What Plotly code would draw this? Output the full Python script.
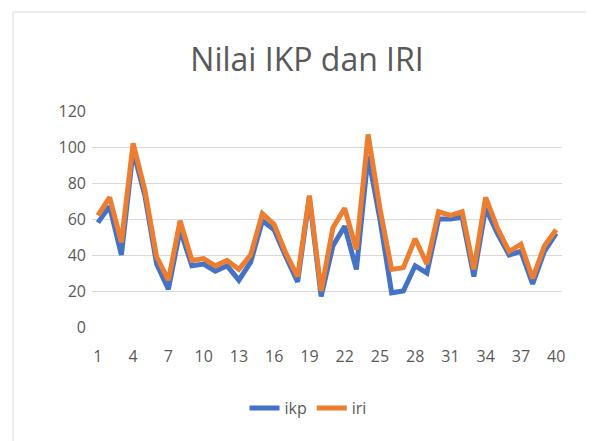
import plotly.graph_objects as go

x_vals = list(range(1, 41))
ikp = [58, 67, 40, 98, 73, 35, 21, 54, 34, 35,
       31, 34, 26, 36, 59, 54, 39, 25, 72, 17,
       45, 56, 32, 95, 60, 19, 20, 34, 30, 60,
       60, 61, 28, 66, 52, 40, 42, 24, 42, 52]
iri = [62, 72, 47, 102, 76, 39, 26, 59, 37, 38,
       34, 37, 32, 40, 63, 57, 41, 28, 73, 20,
       55, 66, 43, 107, 66, 32, 33, 49, 35, 64,
       62, 64, 32, 72, 55, 42, 46, 27, 45, 54]
tick_vals = list(range(1, 41, 3))
y_ticks = [0, 20, 40, 60, 80, 100, 120]

txt = "#595959"
fig = go.Figure()
fig.add_trace(go.Scatter(x=x_vals, y=ikp, mode="lines", name="ikp",
                         line=dict(color="#4472C4", width=5)))
fig.add_trace(go.Scatter(x=x_vals, y=iri, mode="lines", name="iri",
                         line=dict(color="#ED7D31", width=5)))

L, T, PW, PH = 84, 103, 470, 216
fig.update_layout(
    width=594, height=441,
    margin=dict(l=L, r=594 - L - PW, t=T, b=441 - T - PH),
    paper_bgcolor="white", plot_bgcolor="white",
    font=dict(family="Open Sans", color=txt, size=16),
    title=dict(text="Nilai IKP dan IRI", x=299 / 594, xanchor="center",
               y=1 - 52 / 441, yanchor="middle",
               font=dict(size=32, color=txt, family="Open Sans")),
    xaxis=dict(range=[0.5, 40.5], tickvals=tick_vals, showgrid=False,
               zeroline=False, showline=False, ticks="",
               ticklabelstandoff=18,
               tickfont=dict(size=16, color=txt)),
    yaxis=dict(range=[0, 120], tickvals=y_ticks, showgrid=True,
               gridcolor="#d9d9d9", gridwidth=1, zeroline=False,
               showline=False, ticks="", ticklabelstandoff=5,
               tickfont=dict(size=16, color=txt)),
    legend=dict(orientation="h", x=(300 - L) / PW, xanchor="center",
                y=(T + PH - 400) / PH, yanchor="middle",
                font=dict(size=16, color=txt)),
    shapes=[dict(type="rect", xref="paper", yref="paper",
                 x0=(5 - L) / PW, x1=2, y0=-2, y1=(T + PH - 4) / PH,
                 line=dict(color="#d9d9d9", width=1), fillcolor="rgba(0,0,0,0)",
                 layer="below")],
)
fig.write_html("out.html")
